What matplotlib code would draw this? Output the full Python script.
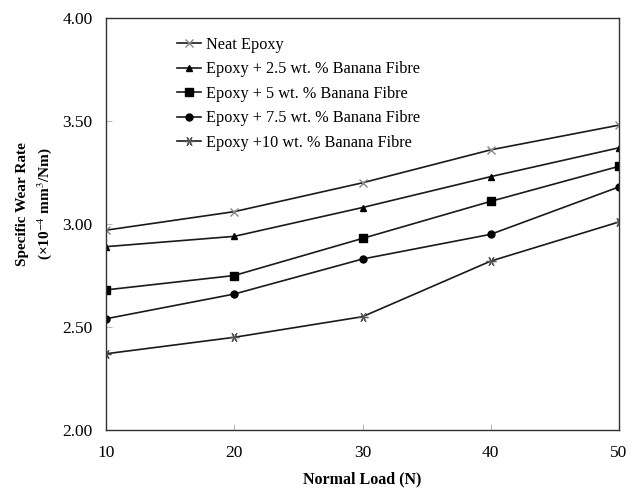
import matplotlib.pyplot as plt

plt.rcParams['font.family'] = ['Liberation Serif', 'DejaVu Serif']
plt.rcParams['mathtext.fontset'] = 'stix'

loads = [10, 20, 30, 40, 50]
neat = [2.97, 3.06, 3.20, 3.36, 3.48]
bf_2_5 = [2.89, 2.94, 3.08, 3.23, 3.37]
bf_5 = [2.68, 2.75, 2.93, 3.11, 3.28]
bf_7_5 = [2.54, 2.66, 2.83, 2.95, 3.18]
bf_10 = [2.37, 2.45, 2.55, 2.82, 3.01]

labels = ['Neat Epoxy',
          'Epoxy + 2.5 wt. % Banana Fibre',
          'Epoxy + 5 wt. % Banana Fibre',
          'Epoxy + 7.5 wt. % Banana Fibre',
          'Epoxy +10 wt. % Banana Fibre']
yticks = [2.00, 2.50, 3.00, 3.50, 4.00]

fig = plt.figure(figsize=(6.38, 4.96), dpi=100)
ax = fig.add_axes([106 / 638, 1 - 430 / 496, (619 - 106) / 638, (430 - 18) / 496])

lc = '#1a1a1a'
ax.plot(loads, neat, color=lc, lw=1.2, marker='x', ms=6, mec='#888888', mew=1.0, label=labels[0])
ax.plot(loads, bf_2_5, color=lc, lw=1.2, marker='^', ms=5, mfc='black', mec='black', label=labels[1])
ax.plot(loads, bf_5, color=lc, lw=1.2, marker='s', ms=5.5, mfc='black', mec='black', label=labels[2])
ax.plot(loads, bf_7_5, color=lc, lw=1.2, marker='o', ms=5, mfc='black', mec='black', label=labels[3])
ax.plot(loads, bf_10, color=lc, lw=1.2, marker=(6, 2, 90), ms=7, mec='#555555', mew=0.9, label=labels[4])

ax.set_xlim(10, 50)
ax.set_ylim(2.0, 4.0)
ax.set_xticks(loads)
ax.set_yticks(yticks)
ax.set_yticklabels(['%.2f' % v for v in yticks])
ax.tick_params(direction='in', length=4, color='#bbbbbb', labelsize=12.5)
ax.tick_params(axis='x', pad=11)
ax.tick_params(axis='y', pad=9.5)
for s in ax.spines.values():
    s.set_color('#333333')
    s.set_linewidth(1.0)

ax.set_xlabel('Normal Load (N)', fontsize=11.5, fontweight='bold', labelpad=7)
ax.set_ylabel('Specific Wear Rate\n(×10$^{-4}$ mm$^{3}$/Nm)', fontsize=11, fontweight='bold',
              linespacing=1.45)
ax.yaxis.set_label_coords(-0.101, 0.549)

ax.legend(loc='upper left', bbox_to_anchor=(0.125, 0.97), frameon=False, fontsize=11.7,
          handlelength=1.5, handletextpad=0.3, labelspacing=0.52, borderaxespad=0)

fig.savefig('out.png', dpi=100)
